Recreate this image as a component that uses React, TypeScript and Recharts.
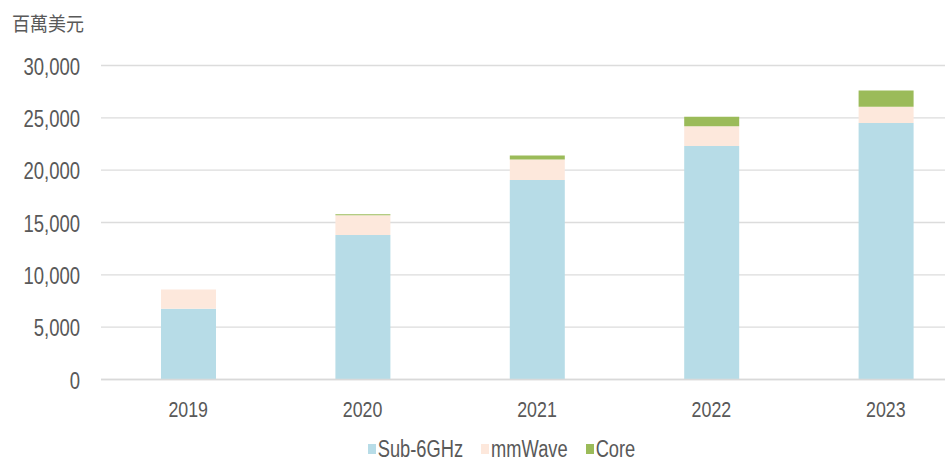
import React from 'react';
import { BarChart, Bar, XAxis, YAxis, CartesianGrid, Legend } from 'recharts';

const years = ['2019', '2020', '2021', '2022', '2023'];
const sub6 = [6750, 13800, 19050, 22300, 24500];
const mmwave = [1850, 1900, 1980, 1900, 1550];
const core = [0, 100, 380, 900, 1550];
const yTicks = [0, 5000, 10000, 15000, 20000, 25000, 30000];

const seriesNames = ['Sub-6GHz', 'mmWave', 'Core'];
const colors = ['#b7dce7', '#fde8dc', '#9bbb59'];

const data = years.map((y, i) => ({ year: y, sub6: sub6[i], mmwave: mmwave[i], core: core[i] }));

const FONT = '"Liberation Sans", Arial, sans-serif';
const TEXT = '#595959';
const SY = 1.28;

const YTick = (props: any) => {
  const { x, y, payload } = props;
  return (
    <g transform={`translate(${x},${y}) scale(1,${SY})`}>
      <text x={0} y={7.2} textAnchor="end" fontSize={18.5} fontFamily={FONT} fill={TEXT}>
        {Number(payload.value).toLocaleString('en-US')}
      </text>
    </g>
  );
};

const XTick = (props: any) => {
  const { x, y, payload } = props;
  return (
    <g transform={`translate(${x},${y}) scale(1,${SY})`}>
      <text x={0} y={22.7} textAnchor="middle" fontSize={17.8} fontFamily={FONT} fill={TEXT}>
        {payload.value}
      </text>
    </g>
  );
};

const LegendContent = (props: any) => {
  const payload = [...(props.payload || [])].sort(
    (a: any, b: any) => seriesNames.indexOf(a.value) - seriesNames.indexOf(b.value)
  );
  return (
    <div
      style={{
        width: 980,
        height: 26,
        boxSizing: 'border-box',
        paddingLeft: 23,
        paddingTop: 2,
        display: 'flex',
        justifyContent: 'center',
        alignItems: 'center',
        fontFamily: FONT,
        overflow: 'visible',
      }}
    >
      {payload.map((p: any, i: number) => (
        <div key={i} style={{ display: 'flex', alignItems: 'center', marginLeft: i === 0 ? 0 : 18 }}>
          <span style={{ display: 'inline-block', width: 8, height: 10, background: p.color, marginRight: 2 }} />
          <span
            style={{
              display: 'inline-block',
              fontSize: 18.3,
              color: TEXT,
              lineHeight: '22px',
              transform: `scaleY(${SY})`,
              whiteSpace: 'nowrap',
            }}
          >
            {p.value}
          </span>
        </div>
      ))}
    </div>
  );
};

export default function App() {
  return (
    <div
      style={{
        position: 'absolute',
        left: 0,
        top: 0,
        width: 945,
        height: 461,
        overflow: 'hidden',
        background: '#ffffff',
      }}
    >
      <div
        style={{
          position: 'absolute',
          left: 12,
          top: 9,
          fontSize: 18,
          fontFamily: '"Noto Sans CJK TC", sans-serif',
          color: TEXT,
          lineHeight: '24px',
          transform: 'scaleY(1.1)',
          transformOrigin: 'left top',
          zIndex: 2,
        }}
      >
        百萬美元
      </div>
      <BarChart
        width={980}
        height={461}
        data={data}
        margin={{ top: 65.5, right: 7, bottom: 0, left: 0 }}
        barCategoryGap={0}
      >
        <CartesianGrid vertical={false} stroke="#dcdcdc" strokeWidth={1.3} />
        <XAxis
          dataKey="year"
          height={55.5}
          axisLine={{ stroke: '#d9d9d9', strokeWidth: 1.3 }}
          tickLine={false}
          tick={<XTick />}
          interval={0}
        />
        <YAxis
          width={101}
          domain={[0, 30000]}
          ticks={yTicks}
          axisLine={false}
          tickLine={false}
          tickMargin={15}
          tick={<YTick />}
          interval={0}
        />
        <Legend verticalAlign="bottom" align="left" content={<LegendContent />} />
        <Bar dataKey="sub6" name={seriesNames[0]} stackId="a" fill={colors[0]} barSize={55} isAnimationActive={false} />
        <Bar dataKey="mmwave" name={seriesNames[1]} stackId="a" fill={colors[1]} barSize={55} isAnimationActive={false} />
        <Bar dataKey="core" name={seriesNames[2]} stackId="a" fill={colors[2]} barSize={55} isAnimationActive={false} />
      </BarChart>
    </div>
  );
}
